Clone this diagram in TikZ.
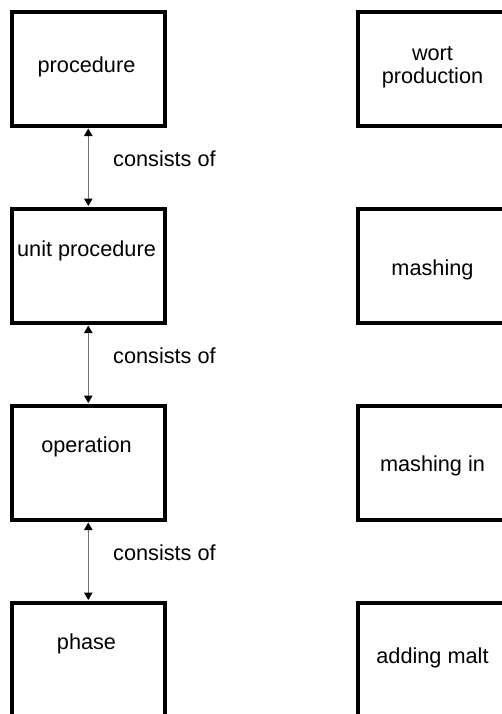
\documentclass[tikz,border=0pt]{standalone}
\usepackage{fontspec}
\setmainfont{Liberation Sans}
\usetikzlibrary{arrows.meta}
\begin{document}
\begin{tikzpicture}[x=1pt,y=-1pt,
  level/.style={draw=black,line width=3.6pt,minimum width=153pt,minimum height=114pt,inner sep=0pt,anchor=north west},
  txt/.style={font=\fontsize{21.7}{23}\selectfont,align=center,inner sep=0pt},
  relation/.style={draw=black!55,line width=1pt,
    {Triangle[length=7.5pt,width=8.5pt,color=black]}-{Triangle[length=7.5pt,width=8.5pt,color=black]}},
  rellabel/.style={font=\fontsize{21.7}{23}\selectfont,anchor=west,inner sep=0pt}]
\clip (0,0) rectangle (502,714);
\fill[white] (0,0) rectangle (502,714);

% hierarchy levels (left column)
\node[level] (proc) at (10,10) {};
\node[level] (unit) at (10,207) {};
\node[level] (oper) at (10,404) {};
\node[level] (phas) at (10,601) {};

\node[txt] (tproc) at (86.5,67) {procedure};
\node[txt] (tunit) at (86.5,251) {unit procedure};
\node[txt] (toper) at (86.5,447) {operation};
\node[txt] (tphas) at (86.5,644) {phase};

% brewing example (right column)
\node[level] (wort) at (356,10) {};
\node[level] (mash) at (356,207) {};
\node[level] (mshi) at (356,404) {};
\node[level] (malt) at (356,601) {};

\node[txt] (twort) at (432.5,67) {wort\\production};
\node[txt] (tmash) at (432.5,270) {mashing};
\node[txt] (tmshi) at (432.5,466) {mashing in};
\node[txt] (tmalt) at (432.5,658) {adding malt};

% relations between levels
\draw[relation,shorten <=1pt,shorten >=1pt] (proc.south) -- (unit.north);
\draw[relation,shorten <=1pt,shorten >=1pt] (unit.south) -- (oper.north);
\draw[relation,shorten <=1pt,shorten >=1pt] (oper.south) -- (phas.north);

\node[rellabel] (r1) at (113,159) {consists of};
\node[rellabel] (r2) at (113,356) {consists of};
\node[rellabel] (r3) at (113,553) {consists of};
\end{tikzpicture}
\end{document}
